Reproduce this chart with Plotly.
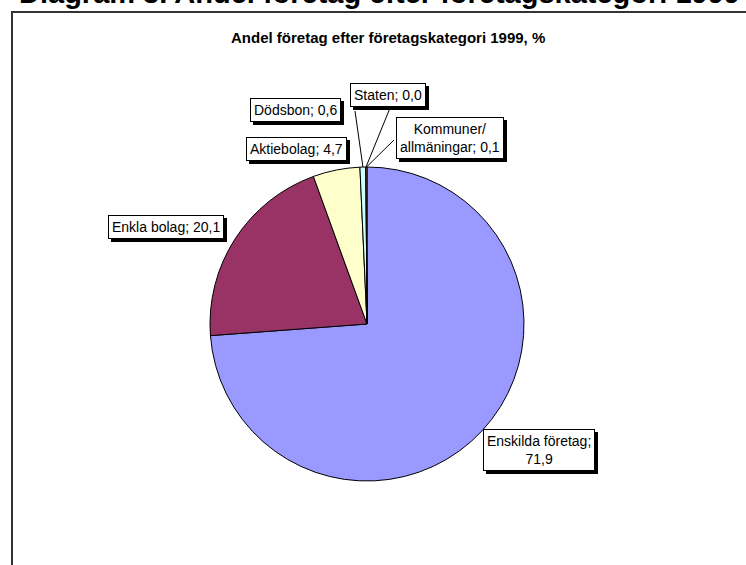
import math
import plotly.graph_objects as go

# ---- data ----
categories = ["Enskilda företag", "Enkla bolag", "Aktiebolag", "Dödsbon", "Staten", "Kommuner/allmäningar"]
values = [71.9, 20.1, 4.7, 0.6, 0.0, 0.1]
label_texts = ["Enskilda företag;<br>{v}", "Enkla bolag; {v}", "Aktiebolag; {v}",
               "Dödsbon; {v}", "Staten; {v}", "Kommuner/<br>allmäningar; {v}"]
colors = ["#9999FF", "#993366", "#FFFFCC", "#CCFFFF", "#660066", "#FF8080"]

W, H = 746, 565
FONT = "Arial, Liberation Sans, sans-serif"

def px(x):
    return x / W

def py(y):
    return 1 - y / H

# pie geometry (pixels)
CX, CY, R = 367, 324, 157

fig = go.Figure()
fig.add_trace(go.Pie(
    labels=categories, values=values, sort=False, direction="clockwise", rotation=0,
    marker=dict(colors=colors, line=dict(color="black", width=1)),
    textinfo="none", hoverinfo="label+value", showlegend=False,
    domain=dict(x=[px(CX - R), px(CX + R)], y=[py(CY + R), py(CY - R)]),
))

# label box centres (pixels) and leader-line start points (None = no line)
label_pos = [(538.5, 449.5), (165.5, 227), (296.5, 148.5), (295.5, 110), (388.5, 95), (449.5, 138)]
leader_start = [None, None, None, (355, 111), (390, 108), (394, 140)]

total = sum(values)
cum = 0.0
annotations = []
shapes = []
for i, v in enumerate(values):
    mid = (cum + v / 2) / total * 2 * math.pi
    cum += v
    tx = CX + R * math.sin(mid)
    ty = CY - R * math.cos(mid)
    txt = label_texts[i].format(v=f"{v:.1f}".replace(".", ","))
    lx, ly = label_pos[i]
    if leader_start[i] is not None:
        sx, sy = leader_start[i]
        shapes.append(dict(type="line", xref="paper", yref="paper",
                           x0=px(sx), y0=py(sy), x1=px(tx), y1=py(ty),
                           line=dict(color="black", width=1)))
    common = dict(xref="paper", yref="paper", x=px(lx), y=py(ly), text=txt,
                  xanchor="center", yanchor="middle", showarrow=False,
                  borderwidth=1, borderpad=3, align="center")
    # shadow
    annotations.append(dict(common, font=dict(family=FONT, size=14, color="black"),
                            bgcolor="black", bordercolor="black", xshift=3, yshift=-3))
    annotations.append(dict(common, font=dict(family=FONT, size=14, color="black"),
                            bgcolor="white", bordercolor="black"))

# chart title
annotations.append(dict(xref="paper", yref="paper", x=px(388.5), y=py(38),
                        text="<b>Andel företag efter företagskategori 1999, %</b>",
                        showarrow=False, font=dict(family=FONT, size=15, color="black"),
                        xanchor="center", yanchor="middle"))
# document heading (clipped at top)
annotations.append(dict(xref="paper", yref="paper", x=px(379), y=py(-7),
                        text="<b>Diagram 3. Andel företag efter företagskategori 1999</b>",
                        showarrow=False, font=dict(family=FONT, size=29, color="black"),
                        xanchor="center", yanchor="middle"))

# outer chart border (extends beyond right/bottom edges)
shapes.append(dict(type="rect", xref="paper", yref="paper",
                   x0=px(12), y0=py(12), x1=px(W + 20), y1=py(H + 20),
                   line=dict(color="#333333", width=2), fillcolor="rgba(0,0,0,0)", layer="below"))

fig.update_layout(
    width=W, height=H, margin=dict(l=0, r=0, t=0, b=0),
    paper_bgcolor="white", plot_bgcolor="white",
    annotations=annotations, shapes=shapes,
)
fig.write_html("out.html", config={"displayModeBar": False},
               post_script="document.body.style.margin='0px';")
